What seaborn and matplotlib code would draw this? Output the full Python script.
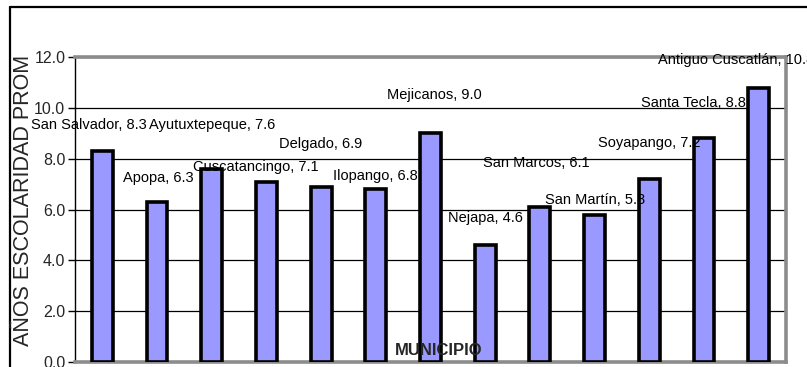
import matplotlib
matplotlib.use("Agg")
import matplotlib.pyplot as plt
import seaborn as sns
import pandas as pd

municipios = ["San Salvador", "Apopa", "Ayutuxtepeque", "Cuscatancingo", "Delgado",
              "Ilopango", "Mejicanos", "Nejapa", "San Marcos", "San Martín",
              "Soyapango", "Santa Tecla", "Antiguo Cuscatlán"]
escolaridad = [8.3, 6.3, 7.6, 7.1, 6.9, 6.8, 9.0, 4.6, 6.1, 5.8, 7.2, 8.8, 10.8]
y_ticks = [0.0, 2.0, 4.0, 6.0, 8.0, 10.0, 12.0]
y_title = "AÑOS ESCOLARIDAD PROM"
x_title = "MUNICIPIO"

# label placement relative to each bar top (category units, value units)
label_dx = [-0.24, 0.02, 0.0, -0.2, 0.0, 0.0, 0.07, 0.0, -0.07, 0.0, 0.0, -0.2, -0.42]
label_dy = [1.02, 0.94, 1.72, 0.57, 1.68, 0.52, 1.5, 1.06, 1.73, 0.57, 1.42, 1.39, 1.08]

sns.set_theme(style="white")
plt.rcParams["font.family"] = ["Liberation Sans", "DejaVu Sans"]

df = pd.DataFrame({"municipio": municipios, "valor": escolaridad})

fig = plt.figure(figsize=(8.07, 3.67), dpi=100)
ax = fig.add_axes([75 / 807, 1 - 362 / 367, (786 - 75) / 807, (362 - 57) / 367])

sns.barplot(data=df, x="municipio", y="valor", order=municipios, color="#9999FF",
            saturation=1, edgecolor="black", linewidth=2.6, width=0.38, ax=ax, zorder=3)

ax.set_ylim(0, 12)
ax.set_xlim(-0.5, len(municipios) - 0.5)
ax.set_yticks(y_ticks)
ax.set_yticklabels([f"{t:.1f}" for t in y_ticks], fontsize=11.5)
ax.set_xticks([])
ax.set_xlabel("")
ax.set_ylabel("")
ax.yaxis.grid(True, color="black", linewidth=0.9, zorder=0)
ax.set_axisbelow(True)
ax.tick_params(axis="y", which="both", left=True, length=5, width=1, color="black", pad=2)

ax.spines["left"].set_color("black")
ax.spines["left"].set_linewidth(1.0)
for side in ("top", "right", "bottom"):
    ax.spines[side].set_color("#8c8c8c")
    ax.spines[side].set_linewidth(2.6)

for i, (name, v) in enumerate(zip(municipios, escolaridad)):
    ax.text(i + label_dx[i], v + label_dy[i], f"{name}, {v:.1f}", ha="center", va="center",
            fontsize=10.5, color="black", zorder=5, clip_on=False)

ax.text(0.511, 0.062, x_title, transform=ax.transAxes, ha="center", va="top",
        fontsize=12, fontweight="bold", zorder=4, clip_on=True)

fig.text(24 / 807, 1 - 200 / 367, y_title, rotation=90, ha="center", va="center", fontsize=15.5)

# outer chart frame
fig.add_artist(plt.Line2D([10 / 807, 10 / 807], [1 - 7 / 367, 0], transform=fig.transFigure,
                          color="black", linewidth=1.6))
fig.add_artist(plt.Line2D([10 / 807, 1], [1 - 7 / 367, 1 - 7 / 367], transform=fig.transFigure,
                          color="black", linewidth=1.6))

fig.savefig("out.png", dpi=100)
